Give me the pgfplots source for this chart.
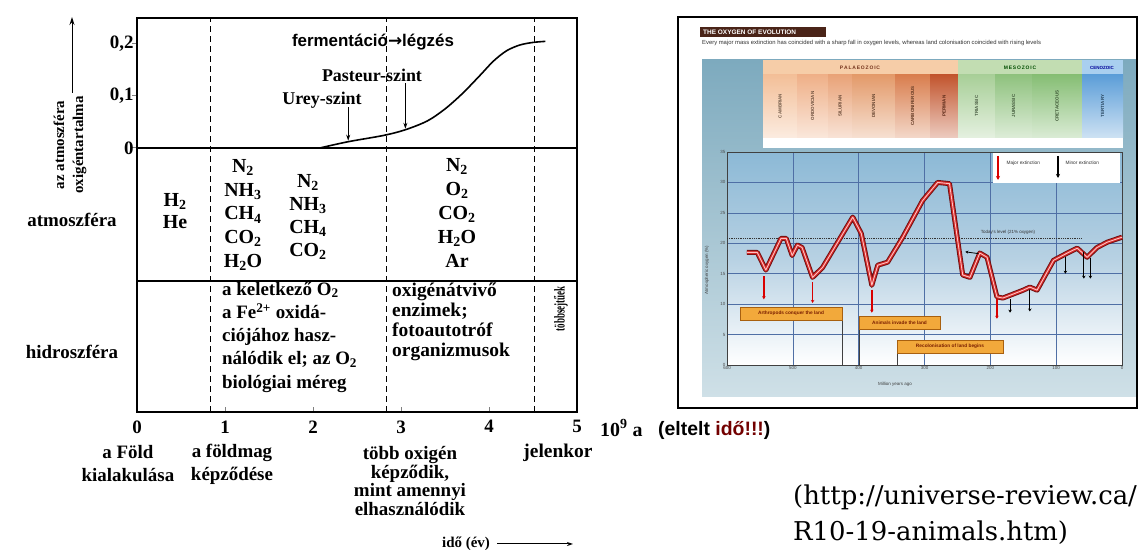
\documentclass[border=0pt]{standalone}
\usepackage{pgfplots}
\pgfplotsset{compat=1.18}
\usepackage{pgfplotstable}
\usepackage{fontspec}
\setmainfont{Liberation Serif}
\newfontfamily\sansf{Liberation Sans}
\newfontfamily\dvs{DejaVu Sans}
\newfontfamily\urlf{DejaVu Serif}
\usetikzlibrary{arrows.meta}
\newcommand{\fs}[2]{\fontsize{#1}{#2}\selectfont}
\definecolor{imgtop}{HTML}{7DAABE}
\definecolor{imgbot}{HTML}{CFE0E7}
\definecolor{pltop}{HTML}{8CB9D6}
\definecolor{plmid}{HTML}{B7D1E3}
\definecolor{gridc}{HTML}{4F6FA5}
\definecolor{titlec}{HTML}{4A2418}
\definecolor{paleoh}{HTML}{F6CDA8}
\definecolor{mesoh}{HTML}{C2DDB2}
\definecolor{cenoh}{HTML}{A9CFEF}
\definecolor{camb}{HTML}{F3BF98}
\definecolor{ordo}{HTML}{EFB088}
\definecolor{silu}{HTML}{E9A378}
\definecolor{devo}{HTML}{E39A6A}
\definecolor{carb}{HTML}{D97E4E}
\definecolor{perm}{HTML}{C2552E}
\definecolor{tria}{HTML}{A8CF98}
\definecolor{jura}{HTML}{8FC27E}
\definecolor{cret}{HTML}{86BE74}
\definecolor{tert}{HTML}{5C9ED8}
\definecolor{redA}{HTML}{6E0E0E}
\definecolor{redB}{HTML}{D42A2A}
\definecolor{redC}{HTML}{FFC2C2}
\definecolor{orbox}{HTML}{F2A93B}
\definecolor{orboxd}{HTML}{A8600F}
\definecolor{orboxt}{HTML}{7A1E00}

\pgfplotstableread{
x y
2.08 0
2.40 0.012
2.80 0.024
3.05 0.035
3.30 0.052
3.50 0.075
3.70 0.105
3.90 0.140
4.05 0.167
4.20 0.187
4.35 0.198
4.50 0.203
4.64 0.205
}\leftcurve

\pgfplotstableread{
mya o2
570 18.5
554 18.5
541 15.6
518 20.8
510 20.8
501 18.0
493 19.7
486 19.3
470 14.4
455 16.0
409 24.3
396 21.6
380 13.1
371 16.4
356 16.9
333 21.0
303 27.0
280 30.0
262 29.8
257 26.0
242 14.8
231 14.4
216 18.4
205 17.7
190 11.2
181 11.0
150 12.3
140 12.8
129 12.3
104 17.2
83 18.4
68 19.2
53 17.7
38 19.3
22 20.2
0 21.0
}\oxy

\begin{document}
\begin{tikzpicture}
\useasboundingbox (0,0) rectangle (1147bp,550bp);
\fill[white] (0,0) rectangle (1147bp,550bp);

% ---------- right panel background (pixel coords, y down) ----------
\begin{scope}[shift={(0,550bp)},x=1bp,y=-1bp]
\shade[top color=imgtop,bottom color=imgbot] (702,60) rectangle (1136,397);
\fill[paleoh] (763,60) rectangle (958,75);
\fill[mesoh] (958,60) rectangle (1082,75);
\fill[cenoh] (1082,60) rectangle (1123,75);
\fill[white] (763,75) rectangle (1123,148);
\foreach \a/\b/\c/\n in {763/797/camb/CAMBRIAN,797/828/ordo/ORDOVICIAN,828/852/silu/SILURIAN,852/895/devo/DEVONIAN,895/930/carb/CARBONIFEROUS,930/958/perm/PERMIAN,958/995/tria/TRIASSIC,995/1032/jura/JURASSIC,1032/1082/cret/CRETACEOUS,1082/1123/tert/TERTIARY}{
  \shade[top color=\c, bottom color=\c!30!white] (\a,75) rectangle (\b,138);
  \node[rotate=90, font=\sansf\bfseries\fs{4.5}{5}, text=\c!45!black, inner sep=0pt] at ({(\a+\b)/2},106) {\n};
}
\node[font=\sansf\bfseries\fs{5}{6}, text=perm!60!black] at (860,67.5) {P\,A\,L\,A\,E\,O\,Z\,O\,I\,C};
\node[font=\sansf\bfseries\fs{5}{6}, text=black!70!green] at (1020,67.5) {M\,E\,S\,O\,Z\,O\,I\,C};
\node[font=\sansf\bfseries\fs{4.5}{5}, text=blue!60!black] at (1102,67.5) {CENOZOIC};
\end{scope}

% ---------- left diagram ----------
\begin{axis}[
  at={(137bp,138bp)}, anchor=south west, scale only axis,
  width=440bp, height=394bp,
  xmin=0, xmax=5, ymin=-0.508, ymax=0.25,
  axis line style={line width=1.3bp},
  tick pos=left, tick align=inside, major tick length=5bp,
  y tick style={xshift=-5bp, line width=1bp},
  x tick style={line width=1bp},
  xtick={0,1,2,3,4,5}, ytick={0,0.1,0.2},
  xticklabels={0,1,2,3,4,5}, yticklabels={0,{0,1},{0,2}},
  ticklabel style={font=\bfseries\fs{19}{19}},
  xticklabel style={yshift=-5bp},
  clip=false,
]
\addplot[black, line width=1.3bp, no marks] coordinates {(0,0) (5,0)};
\addplot[black, line width=1.1bp, no marks] coordinates {(0,-0.256) (5,-0.256)};
\addplot[black, line width=0.9bp, dash pattern=on 6bp off 4bp, no marks] coordinates {(0.84,-0.508) (0.84,0.25)};
\addplot[black, line width=0.9bp, dash pattern=on 6bp off 4bp, no marks] coordinates {(2.84,-0.508) (2.84,0.25)};
\addplot[black, line width=0.9bp, dash pattern=on 6bp off 4bp, no marks] coordinates {(4.52,-0.508) (4.52,0.25)};
\addplot[black, line width=1.6bp, smooth, no marks] table {\leftcurve};
\draw[-{Stealth[length=6bp,width=4bp]}, line width=0.9bp] (axis cs:2.4,0.078) -- (axis cs:2.4,0.014);
\draw[-{Stealth[length=6bp,width=4bp]}, line width=0.9bp] (axis cs:3.05,0.125) -- (axis cs:3.05,0.037);
\end{axis}

% ---------- right plot ----------
\begin{axis}[
  at={(727bp,185bp)}, anchor=south west, scale only axis,
  width=395bp, height=213bp,
  xmin=0, xmax=600, x dir=reverse, ymin=0, ymax=35,
  xtick={0,100,...,600}, ytick={0,5,...,35},
  grid=major, major grid style={gridc, line width=0.5bp},
  axis line style={black!75, line width=0.9bp},
  tick style={draw=none},
  /pgf/number format/assume math mode=true,
  ticklabel style={font=\sansf\fs{4.5}{5}, text=black!70, inner sep=1.5pt},
  axis background/.style={top color=pltop, bottom color=white, middle color=plmid},
  clip=false,
]
\addplot[densely dotted, line width=0.8bp, black!80, no marks] coordinates {(600,20.8) (60,20.8)};
\addplot[no marks, line width=5bp, redA, line join=round] table {\oxy};
\addplot[no marks, line width=3.2bp, redB, line join=round] table {\oxy};
\addplot[no marks, line width=0.9bp, redC, line join=round] table {\oxy};
\addplot[no marks, -{Stealth[length=3bp,width=3.5bp]}, line width=1.4bp, red!85!black] coordinates {(544,14.6) (544,10.8)};
\addplot[no marks, -{Stealth[length=3bp,width=3.5bp]}, line width=1.4bp, red!85!black] coordinates {(470,13.6) (470,10.2)};
\addplot[no marks, -{Stealth[length=3bp,width=3.5bp]}, line width=1.4bp, red!85!black] coordinates {(380,12.4) (380,8.6)};
\addplot[no marks, -{Stealth[length=3bp,width=3.5bp]}, line width=1.4bp, red!85!black] coordinates {(190,10.8) (190,7.6)};
\addplot[no marks, -{Stealth[length=3bp,width=3.5bp]}, line width=1.1bp, black] coordinates {(170,10.8) (170,8.6)};
\addplot[no marks, -{Stealth[length=3bp,width=3.5bp]}, line width=1.1bp, black] coordinates {(140,12.4) (140,8.8)};
\addplot[no marks, -{Stealth[length=3bp,width=3.5bp]}, line width=1.1bp, black] coordinates {(86,17.8) (86,15.0)};
\addplot[no marks, -{Stealth[length=3bp,width=3.5bp]}, line width=1.1bp, black] coordinates {(58,18.6) (58,14.2)};
\addplot[no marks, -{Stealth[length=3bp,width=3.5bp]}, line width=1.1bp, black] coordinates {(48,17.6) (48,14.2)};
\addplot[no marks, -{Stealth[length=3bp,width=3bp]}, line width=0.8bp, black] coordinates {(218,18.3) (238,18.6)};
\end{axis}

% ---------- overlays in pixel coordinates ----------
\begin{scope}[shift={(0,550bp)},x=1bp,y=-1bp]
% right panel
\draw[black, line width=1.5bp] (678,17) rectangle (1137,408);
\fill[titlec] (700,27) rectangle (826,37);
\node[anchor=west, font=\sansf\bfseries\fs{6.5}{7}, text=white, inner sep=0pt] at (703,32) {THE OXYGEN OF EVOLUTION};
\node[anchor=west, font=\sansf\fs{5.9}{7}, text=black!80, inner sep=0pt] at (702,43) {Every major mass extinction has coincided with a sharp fall in oxygen levels, whereas land colonisation coincided with rising levels};
\node[rotate=90, font=\sansf\fs{4.5}{5}, text=black!75] at (707,270) {Atmospheric oxygen (\%)};
\node[font=\sansf\fs{4.5}{5}, text=black!75] at (895,384) {Million years ago};
\node[font=\sansf\fs{4.5}{5}, text=black!80] at (1008,232) {Today's level (21\% oxygen)};
\draw[black!75, line width=0.5bp] (842,320) -- (842,365);
\draw[black!75, line width=0.5bp] (859,329) -- (859,365);
\draw[black!75, line width=0.5bp] (897,353) -- (897,365);
\node[fill=orbox, draw=orboxd, line width=0.5bp, font=\sansf\bfseries\fs{4.8}{5}, text=orboxt, minimum width=102bp, minimum height=13bp, inner sep=0pt] at (791,313.5) {Arthropods conquer the land};
\node[fill=orbox, draw=orboxd, line width=0.5bp, font=\sansf\bfseries\fs{4.8}{5}, text=orboxt, minimum width=81bp, minimum height=13bp, inner sep=0pt] at (899.5,322.5) {Animals invade the land};
\node[fill=orbox, draw=orboxd, line width=0.5bp, font=\sansf\bfseries\fs{4.8}{5}, text=orboxt, minimum width=106bp, minimum height=13bp, inner sep=0pt] at (950,346.5) {Recolonisation of land begins};
\fill[white] (993,153) rectangle (1120,183);
\draw[-{Stealth[length=4bp,width=4bp]}, line width=1.6bp, red!85!black] (998,156) -- (998,180);
\node[anchor=west, font=\sansf\fs{4.8}{5}, text=black!80] at (1003,163) {Major extinction};
\draw[-{Stealth[length=4bp,width=4bp]}, line width=1.2bp, black] (1058,156) -- (1058,178);
\node[anchor=west, font=\sansf\fs{4.8}{5}, text=black!80] at (1062,163) {Minor extinction};

% left diagram texts
\draw[-{Stealth[length=8bp,width=5bp]}, line width=1bp] (72,93) -- (72,17);
\node[rotate=90, align=center, font=\bfseries\fs{15}{19}, inner sep=0pt] at (70,145) {az atmoszféra\\oxigéntartalma};
\node[font=\bfseries\fs{19}{20}] at (72,220) {atmoszféra};
\node[font=\bfseries\fs{19}{20}] at (72,352) {hidroszféra};
\node[align=center, font=\bfseries\fs{20}{22}, inner sep=0pt] at (175,211) {H\textsubscript{2}\\He};
\node[align=center, font=\bfseries\fs{20}{24}, inner sep=0pt] at (243,215) {N\textsubscript{2}\\NH\textsubscript{3}\\CH\textsubscript{4}\\CO\textsubscript{2}\\H\textsubscript{2}O};
\node[align=center, font=\bfseries\fs{20}{23}, inner sep=0pt] at (308,217) {N\textsubscript{2}\\NH\textsubscript{3}\\CH\textsubscript{4}\\CO\textsubscript{2}};
\node[align=center, font=\bfseries\fs{20}{24}, inner sep=0pt] at (457,213) {N\textsubscript{2}\\O\textsubscript{2}\\CO\textsubscript{2}\\H\textsubscript{2}O\\Ar};
\node[anchor=west, align=left, font=\bfseries\fs{19}{23.3}, inner sep=0pt] at (222,337) {a keletkező O\textsubscript{2}\\a Fe\textsuperscript{2+} oxidá-\\ciójához hasz-\\nálódik el; az O\textsubscript{2}\\biológiai méreg};
\node[anchor=west, align=left, font=\bfseries\fs{19.5}{20}, inner sep=0pt] at (392,322) {oxigénátvivő\\enzimek;\\fotoautotróf\\organizmusok};
\node[rotate=90, font=\bfseries\fs{15}{16}, inner sep=0pt] at (561,309) {\scalebox{0.6}[1]{többsejtűek}};
\node[font=\sansf\bfseries\fs{17}{20}, inner sep=0pt] at (373,42) {fermentáció{\dvs\bfseries →}légzés};
\node[font=\bfseries\fs{18}{20}, inner sep=0pt] at (322,100) {Urey-szint};
\node[font=\bfseries\fs{18}{20}, inner sep=0pt] at (372,75) {Pasteur-szint};
\node[align=center, font=\bfseries\fs{19}{23}, inner sep=0pt] at (128,464) {a Föld\\kialakulása};
\node[align=center, font=\bfseries\fs{19}{23}, inner sep=0pt] at (232,464) {a földmag\\képződése};
\node[align=center, font=\bfseries\fs{19}{19}, inner sep=0pt] at (410,481) {több oxigén\\képződik,\\mint amennyi\\elhasználódik};
\node[font=\bfseries\fs{19.5}{20}, inner sep=0pt] at (558,453) {jelenkor};
\node[anchor=west, font=\bfseries\fs{20}{20}, inner sep=0pt] at (600,428) {10\textsuperscript{9} a};
\node[anchor=west, font=\sansf\bfseries\fs{19.5}{20}, inner sep=0pt] at (658,430) {(eltelt {\color{red!45!black}idő!!!})};
\node[font=\bfseries\fs{15}{16}, inner sep=0pt] at (466,544) {idő (év)};
\draw[-{Stealth[length=6bp,width=4bp]}, line width=1bp] (497,544) -- (573,544);
\node[anchor=west, font=\urlf\fs{26}{30}, inner sep=0pt] at (793,497) {(http://universe-review.ca/};
\node[anchor=west, font=\urlf\fs{26}{30}, inner sep=0pt] at (793,533) {R10-19-animals.htm)};
\end{scope}
\end{tikzpicture}
\end{document}
